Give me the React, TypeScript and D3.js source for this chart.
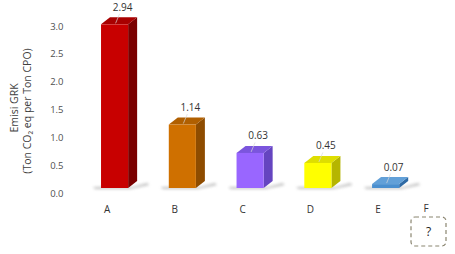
import React from "react";
import * as d3 from "d3";

const categories = ["A", "B", "C", "D", "E"];
const values = [2.94, 1.14, 0.63, 0.45, 0.07];
const yTicks = [0, 0.5, 1.0, 1.5, 2.0, 2.5, 3.0];
const frontColors = ["#c80000", "#cf7000", "#9966ff", "#ffff00", "#4a8fcf"];
const topColors = ["#a80000", "#b05f00", "#7b55dd", "#dede00", "#62a0d8"];
const sideColors = ["#7a0000", "#8e4c00", "#6545c0", "#b5b500", "#2e6aa5"];
const extraCategory = "F";

const W = 455;
const H = 254;
const DX = 9;
const DY = -7;
const FONT = "'Open Sans', 'Noto Sans', sans-serif";

export default function App() {
  const y = d3.scaleLinear().domain([0, 3]).range([193, 26]);
  const x = d3
    .scaleBand<string>()
    .domain(categories)
    .range([80.7, 419.5])
    .paddingInner(0.6)
    .paddingOuter(0.3);
  const bw = x.bandwidth();
  const off = 5;

  return (
    <svg
      width={W}
      height={H}
      style={{ position: "absolute", left: 0, top: 0, background: "#fff" }}
    >
      <defs>
        <filter id="blur" x="-50%" y="-200%" width="200%" height="500%">
          <feGaussianBlur stdDeviation="1.8" />
        </filter>
      </defs>
      {/* y tick labels */}
      {yTicks.map((t) => (
        <text
          key={t}
          x={63.5}
          y={y(t)}
          dominantBaseline="central"
          textAnchor="end"
          fontSize={9.5}
          fontFamily={FONT}
          fill="#505050"
        >
          {t.toFixed(1)}
        </text>
      ))}
      {/* axis title */}
      <text
        transform={`translate(14,108) rotate(-90)`}
        textAnchor="middle"
        dominantBaseline="central"
        fontSize={10.5}
        fontFamily={FONT}
        fill="#404040"
      >
        Emisi GRK
      </text>
      <text
        transform={`translate(27,111) rotate(-90)`}
        textAnchor="middle"
        dominantBaseline="central"
        fontSize={10.5}
        fontFamily={FONT}
        fill="#404040"
      >
        (Ton CO₂ eq per Ton CPO)
      </text>
      {/* bars */}
      {categories.map((c, i) => {
        const x0 = x(c)!;
        const x1 = x0 + bw;
        const yb = y(0) - off;
        const yt = y(values[i]) - off;
        const cx = x0 + bw / 2;
        const backTop = yt + DY;
        const lx = cx + 8;
        const ly = backTop - 6.5;
        return (
          <g key={c}>
            <polygon
              points={`${x0 - 8},${yb - 1} ${x1 + 4},${yb - 1} ${x1 + DX + 10},${yb + DY + 2} ${x1 + DX + 12},${yb - 3} ${x1 + 2},${yb + 1} ${x0 - 6},${yb + 1}`}
              fill="#8a8a8a"
              opacity={0.55}
              filter="url(#blur)"
            />
            <polygon
              points={`${x1},${yt} ${x1 + DX},${yt + DY} ${x1 + DX},${yb + DY} ${x1},${yb}`}
              fill={sideColors[i]}
            />
            <polygon
              points={`${x0},${yt} ${x0 + DX},${yt + DY} ${x1 + DX},${yt + DY} ${x1},${yt}`}
              fill={topColors[i]}
            />
            <rect x={x0} y={yt} width={bw} height={yb - yt} fill={frontColors[i]} />
            <line
              x1={lx - 3}
              y1={ly + 3}
              x2={cx + 1}
              y2={yt - 1}
              stroke="#d9d9d9"
              strokeOpacity={0.85}
              strokeWidth={0.8}
            />
            <text
              x={lx}
              y={ly}
              textAnchor="middle"
              fontSize={10}
              fontFamily={FONT}
              fill="#333"
            >
              {values[i].toFixed(2)}
            </text>
            <text
              x={cx - 7.5}
              y={209}
              dominantBaseline="central"
              textAnchor="middle"
              fontSize={10}
              fontFamily={FONT}
              fill="#333"
            >
              {c}
            </text>
          </g>
        );
      })}
      {/* extra category */}
      <text
        x={426}
        y={208}
        dominantBaseline="central"
        textAnchor="middle"
        fontSize={10}
        fontFamily={FONT}
        fill="#333"
      >
        {extraCategory}
      </text>
      <rect
        x={411}
        y={217}
        width={35}
        height={29}
        rx={4}
        fill="none"
        stroke="#8a8570"
        strokeWidth={1.2}
        strokeDasharray="4,3"
      />
      <text
        x={428.5}
        y={231.5}
        dominantBaseline="central"
        textAnchor="middle"
        fontSize={12}
        fontFamily={FONT}
        fill="#222"
      >
        ?
      </text>
    </svg>
  );
}
